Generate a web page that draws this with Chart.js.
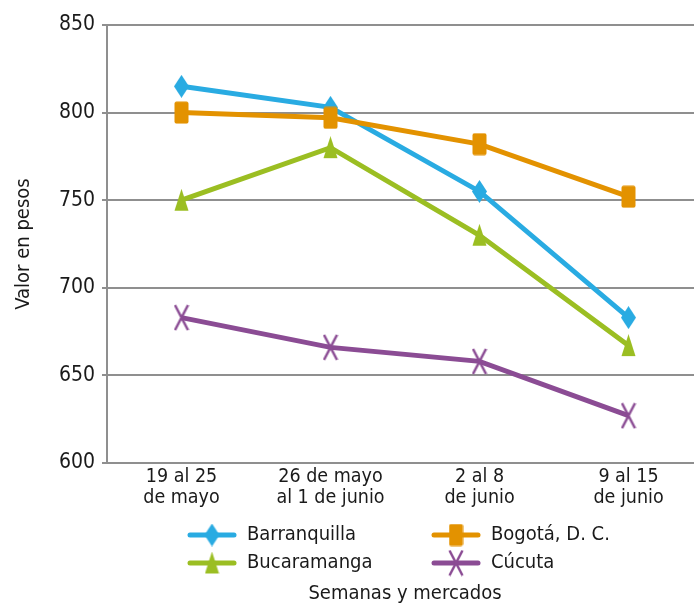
<!DOCTYPE html>
<html>
<head>
<meta charset="utf-8">
<script src="https://cdn.jsdelivr.net/npm/chart.js@4.4.0/dist/chart.umd.min.js"></script>
<style>
  html, body { margin: 0; padding: 0; background: #fff; overflow: hidden; }
</style>
</head>
<body>
<!-- el area del grafico sigue un poco mas alla del borde derecho de la ventana -->
<canvas id="myChart" width="712" height="607"></canvas>
<script>
// datos
const semanas = [['19 al 25', 'de mayo'], ['26 de mayo', 'al 1 de junio'], ['2 al 8', 'de junio'], ['9 al 15', 'de junio']];
const barranquilla = [815, 803, 755, 683];
const bogota = [800, 797, 782, 752];
const bucaramanga = [750, 780, 730, 667];
const cucuta = [683, 666, 658, 627];
const nombres = ['Barranquilla', 'Bogotá, D. C.', 'Bucaramanga', 'Cúcuta'];
const colores = ['#29ABE2', '#E39200', '#9BBE22', '#8B4C94'];

const FONT = '"DejaVu Sans Condensed", "Liberation Sans Narrow", "Roboto", sans-serif';

// marcadores (mas altos que anchos, como en la figura)
function marcador(tipo, color) {
  const c = document.createElement('canvas');
  const w = tipo == 'x' ? 16 : 15, h = tipo == 'x' ? 27 : 23;
  c.width = w; c.height = h;
  const g = c.getContext('2d');
  g.fillStyle = color; g.strokeStyle = color;
  if (tipo == 'diamante') {
    g.beginPath();
    g.moveTo(w / 2, 0); g.lineTo(w, h / 2); g.lineTo(w / 2, h); g.lineTo(0, h / 2);
    g.closePath(); g.fill();
  } else if (tipo == 'cuadro') {
    g.beginPath();
    g.roundRect(0.5, 0.5, w - 1, h - 1, 2);
    g.fill();
  } else if (tipo == 'triangulo') {
    g.beginPath();
    g.moveTo(w / 2, 0); g.lineTo(w - 0.5, h - 1); g.lineTo(0.5, h - 1);
    g.closePath(); g.fill();
  } else {
    g.lineWidth = 2.5;
    g.beginPath();
    g.moveTo(1.5, 1); g.lineTo(w - 1.5, h - 1);
    g.moveTo(w - 1.5, 1); g.lineTo(1.5, h - 1);
    g.stroke();
  }
  return c;
}
const estilos = [
  marcador('diamante', colores[0]),
  marcador('cuadro', colores[1]),
  marcador('triangulo', colores[2]),
  marcador('x', colores[3])
];

// leyenda en dos columnas y titulo del eje x debajo
const leyenda = {
  id: 'leyenda',
  afterDraw(chart) {
    const ctx = chart.ctx;
    const cols = [188, 432], rows = [535, 563];
    ctx.save();
    chart.data.datasets.forEach((ds, i) => {
      const x0 = cols[i % 2], y = rows[Math.floor(i / 2)];
      ctx.strokeStyle = ds.borderColor;
      ctx.lineWidth = 5;
      ctx.lineCap = 'round';
      ctx.beginPath();
      ctx.moveTo(x0 + 2, y); ctx.lineTo(x0 + 46, y);
      ctx.stroke();
      const img = ds.pointStyle;
      ctx.drawImage(img, x0 + 24 - img.width / 2, y - img.height / 2);
      ctx.fillStyle = '#1a1a1a';
      ctx.font = '20px ' + FONT;
      ctx.textBaseline = 'middle';
      ctx.fillText(ds.label, x0 + 59, y);
    });
    const a = chart.chartArea;
    ctx.font = '20px ' + FONT;
    ctx.textAlign = 'center';
    ctx.fillText('Semanas y mercados', (a.left + a.right) / 2, 594);
    ctx.restore();
  }
};

const datos = [barranquilla, bogota, bucaramanga, cucuta];

new Chart(document.getElementById('myChart'), {
  type: 'line',
  data: {
    labels: semanas,
    datasets: datos.map((d, i) => ({
      label: nombres[i],
      data: d,
      borderColor: colores[i],
      backgroundColor: colores[i],
      borderWidth: 5,
      pointStyle: estilos[i],
      order: i == 1 ? 0 : 1,
      tension: 0
    }))
  },
  options: {
    responsive: false,
    animation: false,
    layout: { padding: { top: 25, left: 0, right: 0, bottom: 84 } },
    plugins: {
      legend: { display: false },
      tooltip: { enabled: false }
    },
    scales: {
      x: {
        offset: true,
        grid: { display: false, drawTicks: false },
        border: { display: true, color: '#8f8f8f', width: 2 },
        ticks: {
          color: '#1a1a1a',
          padding: 4,
          maxRotation: 0,
          font: { family: FONT, size: 19.5, lineHeight: 1.07 }
        },
        afterFit(s) { s.height = 60; }
      },
      y: {
        min: 600,
        max: 850,
        ticks: {
          stepSize: 50,
          color: '#1a1a1a',
          padding: 7,
          font: { family: FONT, size: 21 }
        },
        grid: { color: '#8f8f8f', lineWidth: 2, tickLength: 5 },
        border: { display: true, color: '#8f8f8f', width: 2 },
        title: {
          display: true,
          text: 'Valor en pesos',
          color: '#1a1a1a',
          font: { family: FONT, size: 20 },
          padding: { top: 12, bottom: 0 }
        },
        afterFit(s) { s.width = 107; }
      }
    }
  },
  plugins: [leyenda]
});
</script>
</body>
</html>
